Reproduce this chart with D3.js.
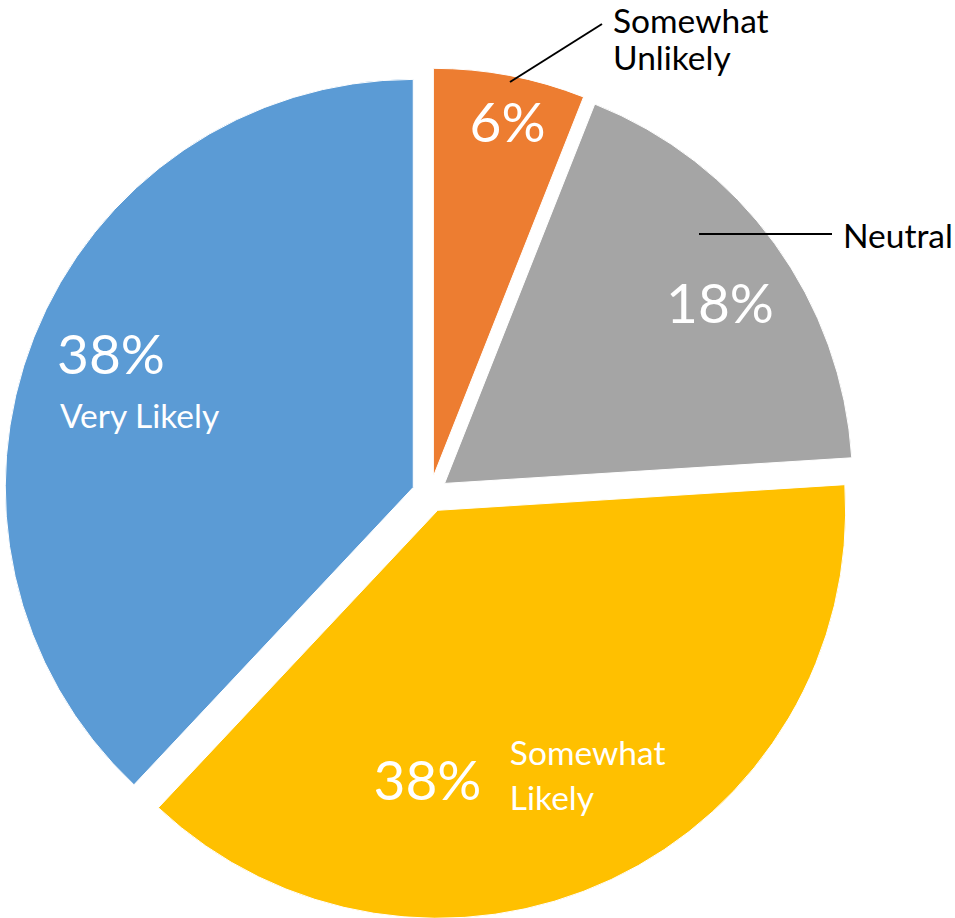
<!DOCTYPE html>
<html>
<head>
<meta charset="utf-8">
<script src="https://cdn.jsdelivr.net/npm/d3@7"></script>
<style>
  html, body { margin: 0; padding: 0; background: #fff; }
  svg { display: block; }
</style>
</head>
<body>
<svg id="chart" width="955" height="918"></svg>
<script>
// ---- data ----
const categories = ["Somewhat Unlikely", "Neutral", "Somewhat Likely", "Very Likely"];
const values = [6, 18, 38, 38];
const valueLabels = ["6%", "18%", "38%", "38%"];
const colors = ["#ED7D31", "#A5A5A5", "#FFC000", "#5B9BD5"];

// ---- layout ----
const W = 955, H = 918;
const cx = 430, cy = 494, R = 408, explode = 18;
const FONT = "Lato, 'Open Sans', sans-serif";
const pctSize = 55, nameSize = 33.5;

const svg = d3.select("#chart");
const pie = d3.pie().sort(null).value(d => d.value).startAngle(0).endAngle(2 * Math.PI);
const arc = d3.arc().innerRadius(0).outerRadius(R);

const data = categories.map((c, i) => ({ name: c, value: values[i], label: valueLabels[i], color: colors[i] }));
const arcs = pie(data);

const root = svg.append("g").attr("transform", `translate(${cx},${cy})`);

const slices = root.selectAll("g.slice").data(arcs).join("g")
  .attr("class", "slice")
  .attr("transform", d => {
    const [ox, oy] = d3.pointRadial((d.startAngle + d.endAngle) / 2, explode);
    return `translate(${ox},${oy})`;
  });

slices.append("path")
  .attr("d", arc)
  .attr("fill", d => d.data.color)
  .attr("stroke", "#fff")
  .attr("stroke-width", 1);

// label placement (fractions of radius, relative to each slice's apex)
const labelLayout = {
  "Somewhat Unlikely": { pct: [0.182, -0.819], name: null },
  "Neutral": { pct: [0.675, -0.393], name: null },
  "Somewhat Likely": { pct: [-0.025, 0.710], name: [0.177, 0.624], nameAnchor: "start", twoLine: true },
  "Very Likely": { pct: [-0.741, -0.278], name: [-0.866, -0.146], nameAnchor: "start", twoLine: false }
};

slices.each(function(d) {
  const g = d3.select(this);
  const L = labelLayout[d.data.name];
  g.append("text")
    .attr("x", L.pct[0] * R)
    .attr("y", L.pct[1] * R)
    .attr("text-anchor", "middle")
    .attr("font-family", FONT)
    .attr("font-size", pctSize)
    .attr("fill", "#fff")
    .text(d.data.label);
  if (L.name) {
    const t = g.append("text")
      .attr("x", L.name[0] * R)
      .attr("y", L.name[1] * R)
      .attr("text-anchor", L.nameAnchor)
      .attr("font-family", FONT)
      .attr("font-size", nameSize)
      .attr("fill", "#fff");
    const words = L.twoLine ? d.data.name.split(" ") : [d.data.name];
    words.forEach((w, i) => {
      t.append("tspan").attr("x", L.name[0] * R).attr("dy", i === 0 ? 0 : 45).text(w);
    });
  }
});

// outside labels with leader lines
const outside = svg.append("g");
// Neutral
outside.append("line")
  .attr("x1", 699).attr("y1", 234).attr("x2", 832).attr("y2", 234)
  .attr("stroke", "#000").attr("stroke-width", 2);
outside.append("text")
  .attr("x", 843).attr("y", 248)
  .attr("font-family", FONT).attr("font-size", nameSize).attr("fill", "#000")
  .text(categories[1]);
// Somewhat Unlikely
outside.append("line")
  .attr("x1", 510).attr("y1", 82).attr("x2", 602).attr("y2", 24)
  .attr("stroke", "#000").attr("stroke-width", 2);
const su = outside.append("text")
  .attr("x", 613).attr("y", 33)
  .attr("font-family", FONT).attr("font-size", nameSize).attr("fill", "#000");
categories[0].split(" ").forEach((w, i) => {
  su.append("tspan").attr("x", 613).attr("dy", i === 0 ? 0 : 37).text(w);
});
</script>
</body>
</html>
